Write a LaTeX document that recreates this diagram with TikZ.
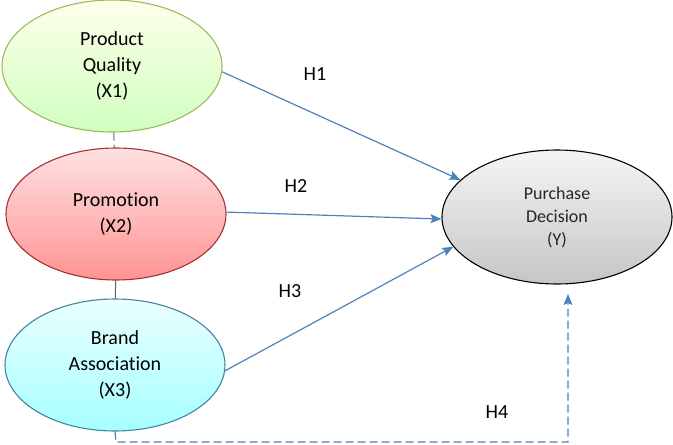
\documentclass[tikz,border=0pt]{standalone}
\usepackage{fontspec}
\setmainfont{Carlito}[Ligatures=NoCommon]
\usetikzlibrary{shapes.geometric,arrows.meta}

\definecolor{arrowblue}{HTML}{4F81BD}
\definecolor{linkgrey}{HTML}{4A6580}
\definecolor{olive}{HTML}{9BBB59}

\begin{document}
\begin{tikzpicture}[x=1pt,y=-1pt,
        every node/.style={font=\fontsize{20}{26}\selectfont},
        var/.style={shape=ellipse, line width=1.1pt, align=center,
            minimum width=220pt, minimum height=132pt, inner sep=0pt},
        hyp/.style={draw=arrowblue, line width=1.2pt,
            -{Stealth[length=11pt,width=9pt,inset=2pt]}},
        longdash/.style={dash pattern=on 8pt off 4pt}]
        \useasboundingbox (0,0) rectangle (673,445);

        \node[var, draw=olive, top color=lime!8!yellow!8, bottom color=lime!35!green!25] (X1) at (112,66) {Product\\Quality\\(X1)};
        \node[var, draw=red!55!black!80, top color=red!12, bottom color=red!42] (X2) at (116,214) {Promotion\\(X2)};
        \node[var, draw=cyan!60!black, top color=cyan!8, bottom color=cyan!35] (X3) at (115,365) {Brand\\Association\\(X3)};
        \node[var, draw=black, minimum width=230pt, minimum height=134pt, top color=gray!8, bottom color=gray!45, text=black!85,
              font=\fontsize{18}{23}\selectfont] (Y) at (557,217) {Purchase\\Decision\\(Y)};

        \coordinate (C1) at (116,442);
        \coordinate (C2) at (568,442);
        \coordinate (T4) at (568,294);

        \path [draw=linkgrey, line width=1pt, longdash] (X1) edge node {} (X2);
        \path [draw=linkgrey, line width=1pt] (X2) edge node {} (X3);

        \draw [hyp] (X1.-3) -- (Y.159);
        \draw [hyp] (X2.1) -- (Y.181);
        \draw [hyp] (X3.-3) -- (Y.196);
        \draw [hyp, longdash] (X3.south) -- (C1) -- (C2) -- (T4);

        \node (H1) at (315,74) {H1};
        \node (H2) at (296,186) {H2};
        \node (H3) at (290,291) {H3};
        \node (H4) at (497,412) {H4};
    \end{tikzpicture}
\end{document}
